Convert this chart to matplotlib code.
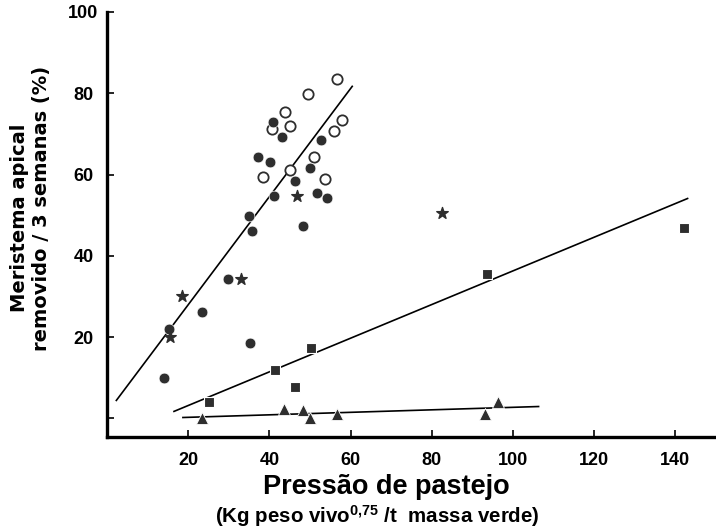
import matplotlib
matplotlib.use("Agg")
import matplotlib.pyplot as plt

plt.rcParams['font.family'] = ['Liberation Sans', 'DejaVu Sans']
plt.rcParams['mathtext.fontset'] = 'custom'
plt.rcParams['mathtext.bf'] = 'Liberation Sans:bold'
plt.rcParams['mathtext.rm'] = 'Liberation Sans:bold'

# Data
open_x = [56.7, 49.4, 43.8, 45.0, 40.6, 58.0, 55.8, 50.9, 45.0, 38.4, 53.8]
open_y = [83.4, 79.8, 75.4, 72.0, 71.2, 73.4, 70.7, 64.4, 61.0, 59.3, 58.8]

filled_x = [40.8, 43.0, 37.1, 40.1, 52.8, 49.9, 46.2, 41.1, 51.8, 54.3, 34.9,
            35.7, 48.2, 29.8, 23.4, 15.3, 35.2, 14.1]
filled_y = [72.9, 69.3, 64.4, 63.2, 68.5, 61.7, 58.5, 54.6, 55.4, 54.1, 49.8,
            46.1, 47.3, 34.4, 26.1, 22.0, 18.5, 9.8]

star_x = [46.9, 33.0, 18.5, 15.6, 82.5]
star_y = [54.6, 34.4, 30.0, 20.0, 50.5]

square_x = [25.1, 41.3, 46.2, 50.3, 93.5, 142.0]
square_y = [3.9, 12.0, 7.8, 17.3, 35.6, 46.8]

tri_x = [23.4, 43.5, 48.2, 50.1, 56.7, 93.0, 96.2]
tri_y = [0.0, 2.4, 2.0, 0.0, 1.0, 1.0, 3.9]

line1_x = [2.3, 60.4]
line1_y = [4.4, 81.7]
line2_x = [16.5, 143.0]
line2_y = [1.7, 54.1]
line3_x = [18.7, 106.3]
line3_y = [0.2, 2.9]

xticks = [20, 40, 60, 80, 100, 120, 140]
yticks = [0, 20, 40, 60, 80, 100]
ytick_labels = ['', '20', '40', '60', '80', '100']

W, H = 716, 531
fig = plt.figure(figsize=(W / 100, H / 100), dpi=100)
ax = fig.add_axes([107 / W, 1 - 437 / H, 1 - 107 / W, (437 - 12) / H])

dark = '#2e2e2e'
for lx, ly in [(line1_x, line1_y), (line2_x, line2_y), (line3_x, line3_y)]:
    ax.plot(lx, ly, color='black', lw=1.2, zorder=2)

ax.scatter(open_x, open_y, s=55, facecolors='white', edgecolors=dark, linewidths=1.3, zorder=3)
ax.scatter(filled_x, filled_y, s=60, color=dark, edgecolors='white', linewidths=0.5, zorder=3)
ax.scatter(star_x, star_y, s=75, marker='*', color=dark, zorder=3)
ax.scatter(square_x, square_y, s=60, marker='s', color=dark, edgecolors='white', linewidths=0.8, zorder=3)
ax.scatter(tri_x, tri_y, s=75, marker='^', color=dark, edgecolors='white', linewidths=0.6, zorder=3)

ax.set_xlim(0, 150)
ax.set_ylim(-4.6, 100)
ax.set_xticks(xticks)
ax.set_yticks(yticks)
ax.set_yticklabels(ytick_labels)

for s in ['top', 'right']:
    ax.spines[s].set_visible(False)
for s in ['left', 'bottom']:
    ax.spines[s].set_linewidth(2.4)

ax.tick_params(direction='in', length=5, width=1.2, labelsize=13)
ax.tick_params(axis='x', pad=11)
ax.tick_params(axis='y', pad=17)
for lab in ax.get_xticklabels() + ax.get_yticklabels():
    lab.set_fontweight('bold')
for lab in ax.get_yticklabels():
    lab.set_horizontalalignment('center')

renderer = fig.canvas.get_renderer()

def fit(txt, target_px, horizontal=True):
    bb = txt.get_window_extent(renderer=renderer)
    cur = bb.width if horizontal else bb.height
    txt.set_fontsize(txt.get_fontsize() * target_px / cur)

# y label, one text object per line (wide font as in the reference)
yl1 = fig.text(20 / W, 1 - 218 / H, 'Meristema apical', rotation=90,
               ha='center', va='center', fontsize=13, fontweight='bold',
               family='DejaVu Sans')
yl2 = fig.text(42 / W, 1 - 208 / H, 'removido / 3 semanas (%)', rotation=90,
               ha='center', va='center', fontsize=13, fontweight='bold',
               family='DejaVu Sans')
fit(yl2, 283, horizontal=False)
yl1.set_fontsize(yl2.get_fontsize())

t1 = fig.text(386 / W, 1 - 487 / H, 'Pressão de pastejo', ha='center', va='center',
              fontsize=19, fontweight='bold')
fit(t1, 248)
t2 = fig.text(377 / W, 1 - 516 / H, r'(Kg peso vivo$^{\mathbf{0{,}75}}$ /t  massa verde)',
              ha='center', va='center', fontsize=15, fontweight='bold')
fit(t2, 325)

fig.savefig('out.png', dpi=100)
